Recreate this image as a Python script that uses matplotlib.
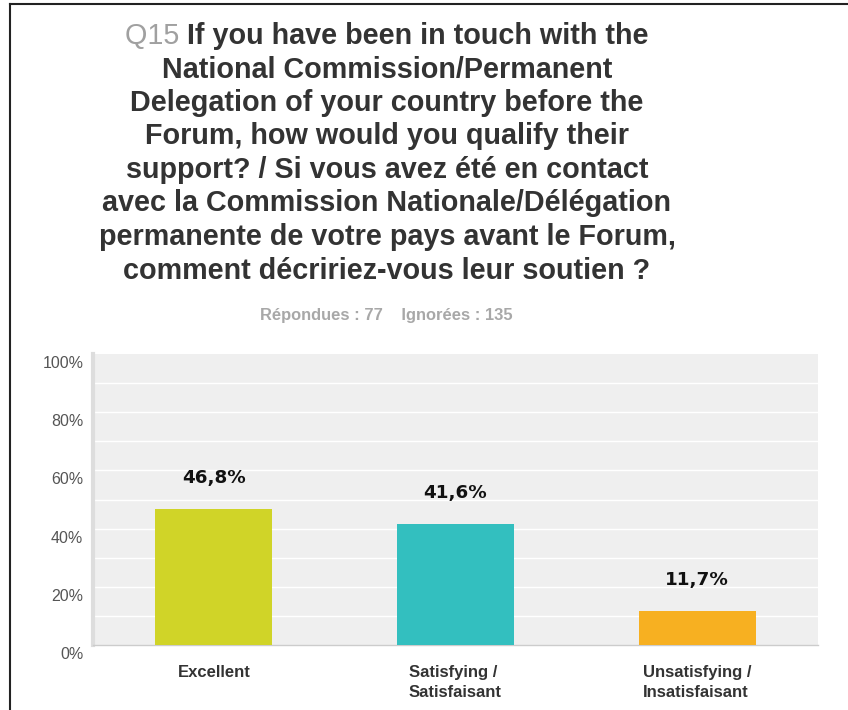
import numpy as np
import matplotlib.pyplot as plt
import matplotlib.transforms as mtransforms
from matplotlib.lines import Line2D

# Données
categories = ['Excellent', 'Satisfying /\nSatisfaisant', 'Unsatisfying /\nInsatisfaisant']
values = [46.8, 41.6, 11.7]
value_labels = ['46,8%', '41,6%', '11,7%']
colors = ['#d0d428', '#33bfbf', '#f7b021']
yticks = [0, 20, 40, 60, 80, 100]

title_q = 'Q15'
title_lines = ['If you have been in touch with the',
               'National Commission/Permanent',
               'Delegation of your country before the',
               'Forum, how would you qualify their',
               'support? / Si vous avez été en contact',
               'avec la Commission Nationale/Délégation',
               'permanente de votre pays avant le Forum,',
               'comment décririez-vous leur soutien ?']
subtitle = 'Répondues : 77    Ignorées : 135'

plt.rcParams['font.family'] = ['Liberation Sans', 'DejaVu Sans']

W, H = 848, 710
fig = plt.figure(figsize=(W / 100, H / 100), dpi=100)
fig.patch.set_facecolor('white')

# Cadre (haut et gauche)
fig.add_artist(Line2D([10 / W, 1], [1 - 4 / H, 1 - 4 / H], color='#222222', lw=1.5))
fig.add_artist(Line2D([10 / W, 10 / W], [0, 1 - 4 / H], color='#222222', lw=1.5))

# Titre
cx = 387 / W
title_fs = 20.7
renderer = fig.canvas.get_renderer()
y0 = 36
step = 33.5
# première ligne : "Q15" gris + reste en gris foncé
t_q = fig.text(0, 1 - y0 / H, title_q + ' ', fontsize=title_fs, color='#a0a0a0',
               ha='left', va='center')
t_r = fig.text(0, 1 - y0 / H, title_lines[0], fontsize=title_fs, color='#333333',
               fontweight='bold', ha='left', va='center')
wq = t_q.get_window_extent(renderer).width
wr = t_r.get_window_extent(renderer).width
x_start = cx * W - (wq + wr) / 2
t_q.set_x(x_start / W)
t_r.set_x((x_start + wq) / W)
for i, line in enumerate(title_lines[1:], start=1):
    fig.text(cx, 1 - (y0 + i * step) / H, line, fontsize=title_fs, color='#333333',
             fontweight='bold', ha='center', va='center')

fig.text(386 / W, 1 - 315 / H, subtitle, fontsize=11.9, color='#a8a8a8',
         fontweight='bold', ha='center', va='center')

# Graphique
ax = fig.add_axes([93 / W, 1 - 645 / H, (818 - 93) / W, (645 - 354) / H])
ax.set_facecolor('#efefef')
x = np.arange(len(categories))
ax.bar(x, values, width=0.485, color=colors, zorder=3)
ax.set_xlim(-0.5, len(categories) - 0.5)
ax.set_ylim(0, 100)

for i, (v, lab) in enumerate(zip(values, value_labels)):
    ax.annotate(lab, (i, v), xytext=(0, 31), textcoords='offset pixels',
                ha='center', va='center', fontsize=13.2, fontweight='bold',
                family='DejaVu Sans', color='#111111')

for yv in np.arange(10, 100, 10):
    ax.axhline(yv, color='white', lw=1.0, zorder=1)

ax.set_yticks(yticks)
ax.set_yticklabels([f'{t}%' for t in yticks], fontsize=11.5, color='#555555')
ax.tick_params(axis='y', length=0, pad=7)
offset = mtransforms.ScaledTranslation(0, -8 / 100, fig.dpi_scale_trans)
for lab in ax.get_yticklabels():
    lab.set_transform(lab.get_transform() + offset)

ax.set_xticks([])
for i, c in enumerate(categories):
    ax.annotate(c, (i, 0), xytext=(0, -20), textcoords='offset pixels',
                ha='center', va='top', fontsize=12, fontweight='bold',
                color='#333333', multialignment='left', linespacing=1.4,
                annotation_clip=False)

for s in ['top', 'right']:
    ax.spines[s].set_visible(False)
ax.spines['left'].set_color('#dddddd')
ax.spines['left'].set_linewidth(3)
ax.spines['bottom'].set_color('#cccccc')
ax.spines['bottom'].set_linewidth(1)

fig.savefig('out.png', dpi=100)
